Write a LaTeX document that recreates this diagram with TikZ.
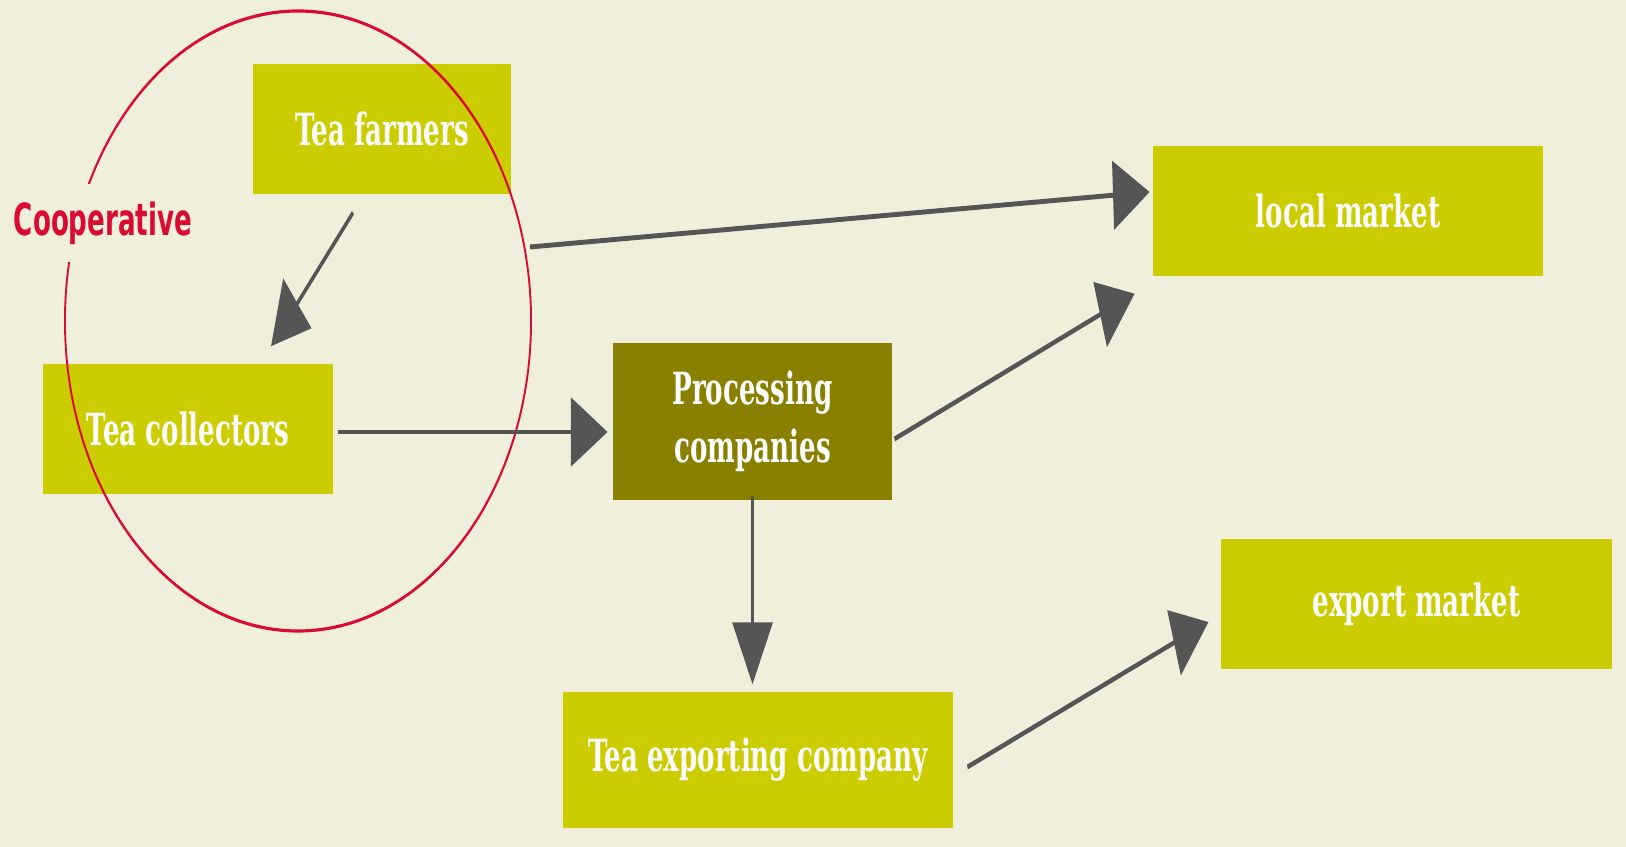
\documentclass[tikz,border=0pt]{standalone}
\usepackage{fontspec}
\setmainfont{DejaVu Serif}
\newfontfamily\coopfont{DejaVu Sans}
\usepackage{xcolor}
\usepackage{tikz}
\usetikzlibrary{shapes.geometric,arrows.meta,calc}
\definecolor{bgcream}{RGB}{240,239,220}
\definecolor{teagreen}{RGB}{204,205,0}
\definecolor{teaolive}{RGB}{138,128,0}
\definecolor{arrowgray}{RGB}{85,85,85}
\definecolor{coopred}{RGB}{218,10,50}

\begin{document}
\begin{tikzpicture}[
    box/.style={rectangle, fill=teagreen, text=white, minimum height=1.3cm, align=center, font=\bfseries\fontsize{12.6}{16.6}\selectfont},
    coop/.style={ellipse, draw=coopred, line width=0.9pt, minimum width=7.9cm, minimum height=6.2cm},
    arrow/.style={-{Triangle[length=0.62cm, width=0.68cm]}, line width=1.4pt, color=arrowgray}
]
\useasboundingbox[fill=bgcream] (0,0) rectangle (16.26,-8.47);

% whole chart squeezed sideways, text and tips too
\begin{scope}[transform canvas={xscale=0.59}, x=1.6949cm]

% Boxes
\node[box, minimum width=4.37cm] (farmers) at (3.82,-1.29) {Tea farmers};
\node[box, minimum width=4.92cm] (collectors) at (1.88,-4.29) {Tea collectors};
\node[box, fill=teaolive, minimum width=4.73cm, minimum height=1.57cm] (processing) at (7.525,-4.215) {Processing\\companies};
\node[box, minimum width=6.61cm] (local) at (13.48,-2.11) {local market};
\node[box, minimum width=6.63cm] (export) at (14.165,-6.04) {export market};
\node[box, minimum width=6.61cm, minimum height=1.36cm] (exporter) at (7.58,-7.60) {Tea exporting company};

% Cooperative
\node[coop] (cooperative) at (2.98,-3.21) {};
\node[font=\coopfont\bfseries\fontsize{12.6}{14}\selectfont, text=coopred, fill=bgcream, inner ysep=0.18cm, inner xsep=1pt] (cooplabel) at (1.03,-2.23) {Cooperative};

% Flows
\draw[arrow] ($(farmers.south)+(-0.29,-0.18)$) -- ($(collectors.north)+(0.83,0.17)$);
\draw[arrow] ($(cooperative.east)+(-0.02,0.74)$) -- ($(local.west)+(-0.03,0.19)$);
\draw[arrow] ($(collectors.east)+(0.04,-0.03)$) -- ($(processing.west)+(-0.05,-0.105)$);
\draw[arrow] ($(processing.east)+(0.02,-0.175)$) -- ($(local.south west)+(-0.18,-0.17)$);
\draw[arrow] ($(processing.south)+(0,0.05)$) -- ($(processing.south |- exporter.north)+(0,0.07)$);
\draw[arrow] ($(exporter.east)+(0.14,-0.07)$) -- ($(export.west)+(-0.12,-0.18)$);

\end{scope}
\end{tikzpicture}
\end{document}
